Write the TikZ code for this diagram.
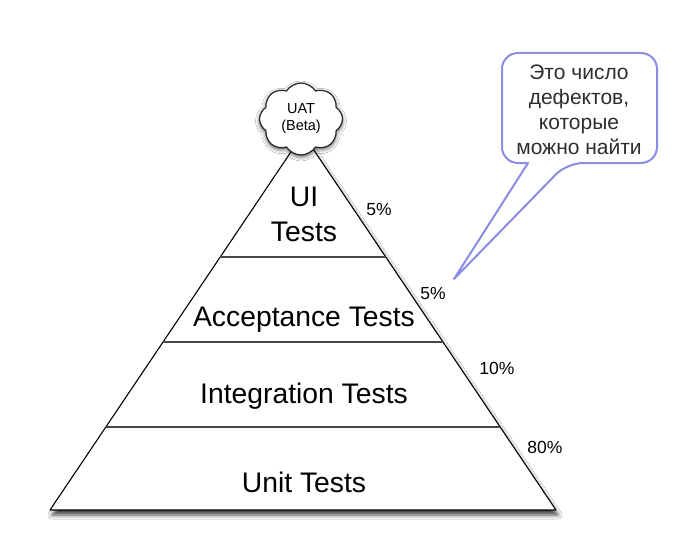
\documentclass[tikz,border=0pt]{standalone}
\usepackage{fontspec}
\setmainfont{Liberation Sans}
\usetikzlibrary{shapes.symbols,shadows.blur,calc}
\definecolor{callcol}{RGB}{140,140,228}
\definecolor{txtgray}{RGB}{45,45,45}
\tikzset{
  tier/.style={font=\fontsize{28.3}{35}\selectfont, anchor=base, inner sep=0pt},
  pct/.style={font=\fontsize{17.5}{18}\selectfont, inner sep=0pt},
  divider/.style={draw=black!72, line width=1.3pt},
  pyr/.style={fill=white, draw=black, line width=1.1pt, line join=round,
    blur shadow={shadow xshift=2pt, shadow yshift=-5pt, shadow blur radius=4pt, shadow opacity=75}},
  uatcloud/.style={cloud, cloud puffs=8, cloud puff arc=115, aspect=1.15, draw=black!85,
    line width=1.2pt, fill=white, minimum width=83pt, minimum height=72pt, inner sep=0pt,
    align=center, font=\fontsize{14.5}{17}\selectfont,
    blur shadow={shadow xshift=0pt, shadow yshift=-2pt, shadow blur radius=4pt, shadow opacity=65}},
  callbox/.style={draw=callcol, line width=2pt, fill=white, line join=round},
  notetext/.style={font=\fontsize{21}{25}\selectfont, text=txtgray, align=center, inner sep=0pt}
}
\begin{document}
\begin{tikzpicture}[x=1pt,y=-1pt]
\useasboundingbox[fill=white] (0,0) rectangle (676,540);
\coordinate (apex) at (303,134);
\coordinate (bl) at (50,510);
\coordinate (br) at (556,510);
\path[pyr] (apex) -- (br) -- (bl) -- cycle;
\coordinate (d1l) at ($(apex)!0.3271!(bl)$);
\coordinate (d1r) at ($(apex)!0.3271!(br)$);
\coordinate (d2l) at ($(apex)!0.5532!(bl)$);
\coordinate (d2r) at ($(apex)!0.5532!(br)$);
\coordinate (d3l) at ($(apex)!0.7793!(bl)$);
\coordinate (d3r) at ($(apex)!0.7793!(br)$);
\draw[divider] (d1l) -- (d1r);
\draw[divider] (d2l) -- (d2r);
\draw[divider] (d3l) -- (d3r);
\node[tier, anchor=center, align=center] (ui) at (304,214) {UI\\Tests};
\node[tier] (acc) at (304,326) {Acceptance Tests};
\node[tier] (int) at (304,403) {Integration Tests};
\node[tier] (unit) at (304,492) {Unit Tests};
\node[pct] (p1) at (379,210) {5\%};
\node[pct] (p2) at (433,294) {5\%};
\node[pct] (p3) at (497,368) {10\%};
\node[pct] (p4) at (545,447) {80\%};
\node[uatcloud] (uat) at (301,119) {UAT\\(Beta)};
\coordinate (tip) at (454,279);
\draw[callbox, rounded corners=16pt] (528,163) -- (502,163) -- (502,53) -- (657,53) -- (657,163) -- (567,163) [sharp corners] -- (tip) -- cycle;
\node[notetext] (note) at (579,110) {Это число\\дефектов,\\которые\\можно найти};
\end{tikzpicture}
\end{document}
